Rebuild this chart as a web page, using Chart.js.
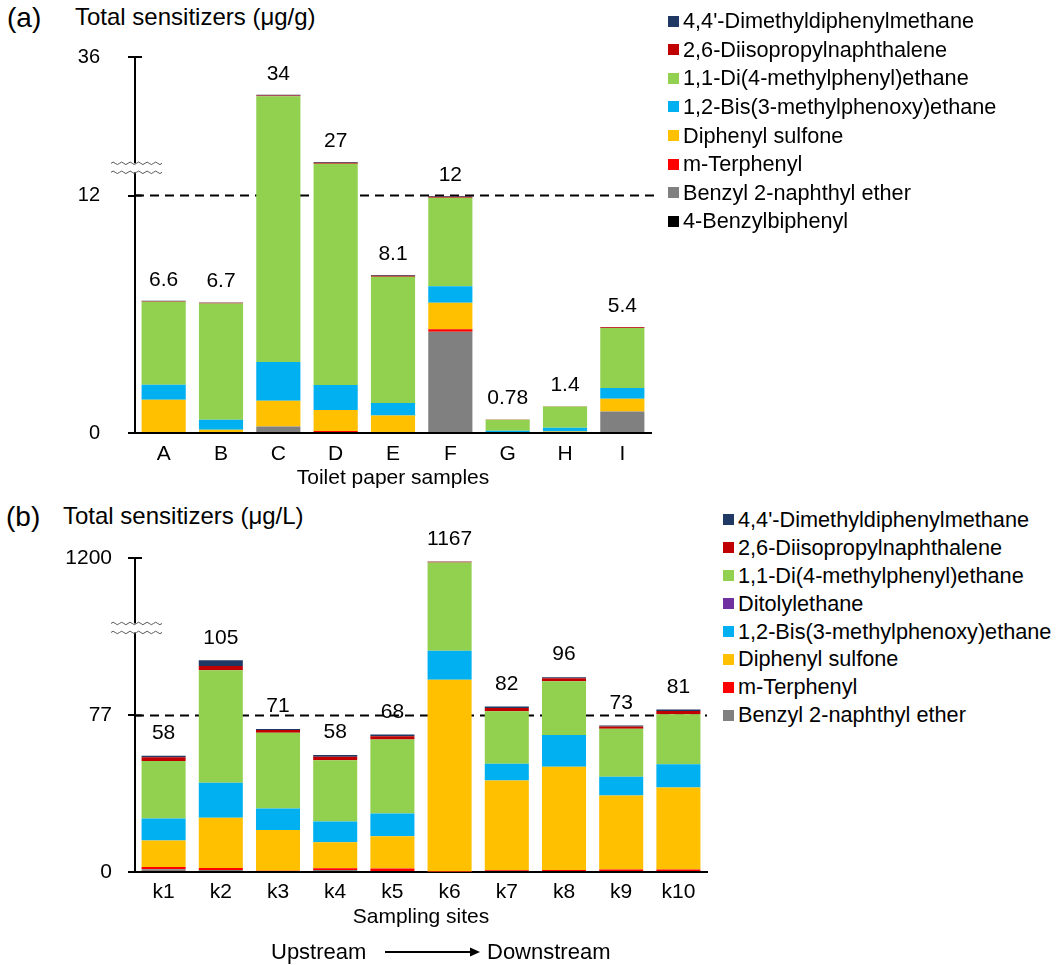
<!DOCTYPE html>
<html>
<head>
<meta charset="utf-8">
<script src="https://cdn.jsdelivr.net/npm/chart.js@4.4.1/dist/chart.umd.min.js"></script>
<style>
  body { margin: 0; background: #fff; font-family: 'Liberation Sans', Arial, sans-serif; color: #000; }
  #page { position: relative; width: 1061px; height: 965px; overflow: hidden; }
  .box { position: absolute; }
  .tag { position: absolute; font-size: 28px; line-height: 32px; white-space: nowrap; }
  .ytitle { position: absolute; font-size: 24px; line-height: 28px; white-space: nowrap; }
  .legend { position: absolute; margin: 0; padding: 0; list-style: none; font-size: 21.7px; }
  .legend li { display: flex; align-items: center; white-space: nowrap; }
  .legend .sw { width: 11px; height: 11px; margin-right: 4px; flex: none; }
  .flow { position: absolute; font-size: 22px; line-height: 26px; white-space: nowrap; }
</style>
</head>
<body>
<div id="page">
  <div class="tag" style="left:7px; top:2px;">(a)</div>
  <div class="ytitle" style="left:75px; top:3px;">Total sensitizers (μg/g)</div>
  <div class="box" style="left:0; top:0; width:700px; height:500px;"><canvas id="chartA"></canvas></div>
  <ul class="legend" id="legendA" style="left:668px; top:7px;"></ul>

  <div class="tag" style="left:6px; top:501px;">(b)</div>
  <div class="ytitle" style="left:63px; top:502px;">Total sensitizers (μg/L)</div>
  <div class="box" style="left:0; top:500px; width:720px; height:440px;"><canvas id="chartB"></canvas></div>
  <ul class="legend" id="legendB" style="left:723px; top:506px;"></ul>

  <div class="flow" style="left:271px; top:939px;">Upstream</div>
  <svg class="box" style="left:380px; top:944px;" width="105" height="16">
    <line x1="5" y1="8" x2="92" y2="8" stroke="#000" stroke-width="2"/>
    <polygon points="100,8 90,3.5 90,12.5" fill="#000"/>
  </svg>
  <div class="flow" style="left:487px; top:939px;">Downstream</div>
</div>

<script>
Chart.defaults.font.family = "'Liberation Sans', Arial, sans-serif";
Chart.defaults.color = '#000';

// colours per compound
const colors = {
  dimethyl: '#203864',
  diisopropyl: '#C00000',
  diEthane: '#92D050',
  ditolyl: '#7030A0',
  bis: '#00B0F0',
  sulfone: '#FFC000',
  terphenyl: '#FF0000',
  naphthylEther: '#808080',
  benzylbiphenyl: '#000000'
};

// ---------- (a) toilet paper, values in axis units (the axis is broken above 12) ----------
const categoriesA = ['A', 'B', 'C', 'D', 'E', 'F', 'G', 'H', 'I'];
const benzylbiphenylA = [0, 0, 0, 0, 0, 0, 0, 0, 0];
const naphthylEtherA = [0, 0, 0.33, 0, 0, 5.12, 0, 0, 1.09];
const terphenylA = [0, 0, 0, 0.1, 0.05, 0.12, 0, 0, 0];
const sulfoneA = [1.68, 0.17, 1.3, 1.06, 0.84, 1.34, 0, 0.08, 0.64];
const bisA = [0.76, 0.5, 1.96, 1.26, 0.62, 0.84, 0.12, 0.19, 0.55];
const diEthaneA = [4.19, 5.88, 13.43, 11.19, 6.39, 4.47, 0.55, 1.07, 3.02];
const diisopropylA = [0.03, 0.03, 0.04, 0.05, 0.05, 0.05, 0.01, 0.01, 0.04];
const dimethylA = [0.02, 0.02, 0.03, 0.03, 0.03, 0.03, 0, 0, 0.02];
const totalsA = ['6.6', '6.7', '34', '27', '8.1', '12', '0.78', '1.4', '5.4'];
const tickValuesA = [0, 12, 19];
const tickLabelsA = ['0', '12', '36'];

// ---------- (b) sampling sites ----------
const categoriesB = ['k1', 'k2', 'k3', 'k4', 'k5', 'k6', 'k7', 'k8', 'k9', 'k10'];
const naphthylEtherB = [1.3, 1.0, 0, 1.0, 0.5, 0, 0, 0, 0, 0];
const terphenylB = [1.1, 1.0, 0.6, 0.8, 1.2, 0.3, 0.8, 1.0, 1.2, 1.2];
const sulfoneB = [13.1, 24.7, 20.0, 12.8, 15.9, 94.2, 44.2, 50.8, 36.4, 40.3];
const bisB = [10.8, 17.2, 10.6, 10.2, 11.2, 14.3, 8.2, 15.6, 9.2, 11.5];
const ditolylB = [0, 0, 0, 0, 0, 0, 0, 0, 0, 0];
const diEthaneB = [28.3, 55.3, 37.3, 30.1, 36.4, 43.4, 25.9, 26.4, 23.6, 24.6];
const diisopropylB = [1.8, 2.1, 1.3, 1.8, 1.6, 0.3, 1.5, 1.5, 1.1, 1.6];
const dimethylB = [0.8, 2.8, 0.5, 0.8, 0.8, 0.2, 0.8, 0.5, 0.5, 0.7];
const totalsB = ['58', '105', '71', '58', '68', '1167', '82', '96', '73', '81'];
const tickValuesB = [0, 77, 154.4];
const tickLabelsB = ['0', '77', '1200'];

// series bottom -> top
const seriesA = [
  ['4-Benzylbiphenyl', benzylbiphenylA, colors.benzylbiphenyl],
  ['Benzyl 2-naphthyl ether', naphthylEtherA, colors.naphthylEther],
  ['m-Terphenyl', terphenylA, colors.terphenyl],
  ['Diphenyl sulfone', sulfoneA, colors.sulfone],
  ['1,2-Bis(3-methylphenoxy)ethane', bisA, colors.bis],
  ['1,1-Di(4-methylphenyl)ethane', diEthaneA, colors.diEthane],
  ['2,6-Diisopropylnaphthalene', diisopropylA, colors.diisopropyl],
  ["4,4'-Dimethyldiphenylmethane", dimethylA, colors.dimethyl]
];
const seriesB = [
  ['Benzyl 2-naphthyl ether', naphthylEtherB, colors.naphthylEther],
  ['m-Terphenyl', terphenylB, colors.terphenyl],
  ['Diphenyl sulfone', sulfoneB, colors.sulfone],
  ['1,2-Bis(3-methylphenoxy)ethane', bisB, colors.bis],
  ['Ditolylethane', ditolylB, colors.ditolyl],
  ['1,1-Di(4-methylphenyl)ethane', diEthaneB, colors.diEthane],
  ['2,6-Diisopropylnaphthalene', diisopropylB, colors.diisopropyl],
  ["4,4'-Dimethyldiphenylmethane", dimethylB, colors.dimethyl]
];

function makeDatasets(series) {
  return series.map(([label, data, color]) => ({
    label: label,
    data: data,
    backgroundColor: color,
    borderWidth: 0,
    stack: 'total',
    barPercentage: 0.77,
    categoryPercentage: 1
  }));
}

// dashed reference line, drawn behind the bars
const refLine = {
  id: 'refLine',
  beforeDatasetsDraw(chart, args, opts) {
    const { ctx, chartArea } = chart;
    const y = chart.scales.y.getPixelForValue(opts.value);
    ctx.save();
    ctx.strokeStyle = '#000';
    ctx.lineWidth = 2;
    ctx.setLineDash([9, 6]);
    ctx.beginPath();
    ctx.moveTo(chartArea.left, y);
    ctx.lineTo(chartArea.right + opts.extend, y);
    ctx.stroke();
    ctx.restore();
  }
};

// totals over each bar
const totalLabels = {
  id: 'totalLabels',
  afterDatasetsDraw(chart, args, opts) {
    const { ctx } = chart;
    const top = chart.getDatasetMeta(chart.data.datasets.length - 1);
    ctx.save();
    ctx.font = opts.size + "px 'Liberation Sans', Arial, sans-serif";
    ctx.fillStyle = '#000';
    ctx.textAlign = 'center';
    ctx.textBaseline = 'middle';
    top.data.forEach((bar, i) => {
      ctx.fillText(opts.labels[i], bar.x, bar.y - opts.gap);
    });
    ctx.restore();
  }
};

// inward half of the tick marks and the axis break
const axisBreak = {
  id: 'axisBreak',
  afterDraw(chart, args, opts) {
    const { ctx } = chart;
    const y = chart.scales.y;
    const x0 = chart.chartArea.left;
    ctx.save();
    ctx.strokeStyle = '#000';
    ctx.lineWidth = 2;
    y.ticks.forEach(t => {
      if (t.value === 0) return;
      const py = y.getPixelForValue(t.value);
      ctx.beginPath();
      ctx.moveTo(x0, py);
      ctx.lineTo(x0 + 7, py);
      ctx.stroke();
    });
    const mid = y.getPixelForValue(opts.at);
    const y1 = mid - 4.5, y2 = mid + 4.5;
    const xa = x0 - 24, xb = x0 + 27;
    const waves = 6, step = (xb - xa) / waves;
    const wave = (yy) => {
      ctx.moveTo(xa, yy);
      for (let k = 0; k < waves; k++) {
        const sx = xa + k * step;
        ctx.quadraticCurveTo(sx + step / 4, yy - 2.5, sx + step / 2, yy);
        ctx.quadraticCurveTo(sx + 3 * step / 4, yy + 2.5, sx + step, yy);
      }
    };
    ctx.fillStyle = '#fff';
    ctx.fillRect(x0 - 3, y1, 6, y2 - y1);
    ctx.strokeStyle = '#555';
    ctx.lineWidth = 1;
    ctx.beginPath();
    wave(y1);
    wave(y2);
    ctx.stroke();
    ctx.restore();
  }
};

function buildChart(id, cfg) {
  const canvas = document.getElementById(id);
  return new Chart(canvas.getContext('2d'), {
    type: 'bar',
    data: { labels: cfg.labels, datasets: makeDatasets(cfg.series) },
    plugins: [refLine, totalLabels, axisBreak],
    options: {
      responsive: true,
      maintainAspectRatio: false,
      animation: false,
      layout: { padding: cfg.padding },
      scales: {
        x: {
          stacked: true,
          grid: { display: false, drawTicks: false },
          border: { color: '#000', width: 2 },
          ticks: { padding: cfg.xPad, font: { size: 21 }, color: '#000' },
          title: { display: true, text: cfg.xTitle, font: { size: 21 }, color: '#000', padding: { top: 0, bottom: cfg.titlePad } },
          afterFit: s => { s.height = cfg.xHeight; }
        },
        y: {
          stacked: true,
          min: 0,
          max: cfg.max,
          afterBuildTicks: s => { s.ticks = cfg.tickValues.map(v => ({ value: v })); },
          afterFit: s => { s.width = 135; },
          grid: { drawOnChartArea: false, drawTicks: true, tickLength: 7, color: '#000', lineWidth: 2 },
          border: { color: '#000', width: 2 },
          ticks: { padding: cfg.yPad, font: { size: cfg.yFont }, color: '#000', callback: (v, i) => cfg.tickLabels[i] }
        }
      },
      plugins: {
        legend: { display: false },
        tooltip: { enabled: false },
        refLine: { value: cfg.tickValues[1], extend: cfg.dashExtend },
        totalLabels: { labels: cfg.totals, size: 21, gap: cfg.labelGap },
        axisBreak: { at: cfg.breakAt }
      }
    }
  });
}

function buildLegend(id, series, rowHeight) {
  const ul = document.getElementById(id);
  series.slice().reverse().forEach(([label, , color]) => {
    const li = document.createElement('li');
    li.style.height = rowHeight + 'px';
    const sw = document.createElement('span');
    sw.className = 'sw';
    sw.style.background = color;
    const txt = document.createElement('span');
    txt.textContent = label;
    li.appendChild(sw);
    li.appendChild(txt);
    ul.appendChild(li);
  });
}

buildChart('chartA', {
  labels: categoriesA, series: seriesA, totals: totalsA,
  tickValues: tickValuesA, tickLabels: tickLabelsA, max: 19,
  padding: { top: 57, right: 49, left: 0, bottom: 0 },
  xHeight: 67, xPad: 9, titlePad: 9, xTitle: 'Toilet paper samples',
  yPad: 28, yFont: 20, labelGap: 21, breakAt: 13.4, dashExtend: 4
});

buildChart('chartB', {
  labels: categoriesB, series: seriesB, totals: totalsB,
  tickValues: tickValuesB, tickLabels: tickLabelsB, max: 154.4,
  padding: { top: 58, right: 13, left: 0, bottom: 0 },
  xHeight: 68, xPad: 8, titlePad: 10, xTitle: 'Sampling sites',
  yPad: 16, yFont: 21, labelGap: 22.5, breakAt: 120, dashExtend: 0
});

buildLegend('legendA', seriesA, 28.57);
buildLegend('legendB', seriesB, 27.9);
</script>
</body>
</html>
